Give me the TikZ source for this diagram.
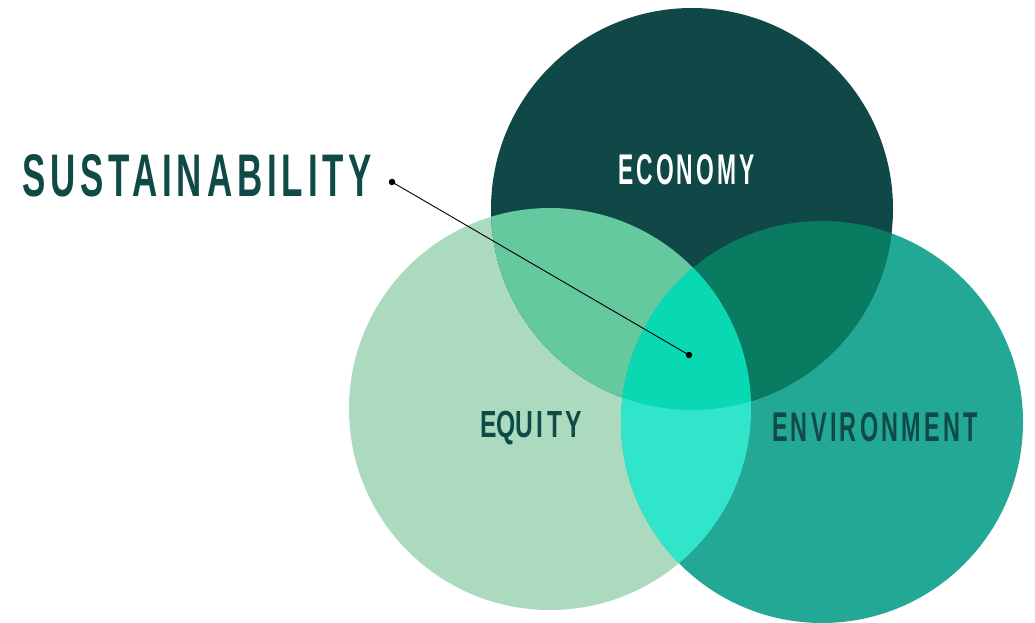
\documentclass[tikz,border=0pt]{standalone}
\usepackage{fontspec}
\usepackage{graphicx}
\newfontfamily\lblfont[LetterSpace=14]{Liberation Sans}
\definecolor{ecoC}{HTML}{0F4846}
\definecolor{equC}{HTML}{ABDABF}
\definecolor{envC}{HTML}{23A896}
\definecolor{ecoequC}{HTML}{64C99E}
\definecolor{ecoenvC}{HTML}{087B60}
\definecolor{equenvC}{HTML}{30E5C9}
\definecolor{allC}{HTML}{08D9B2}
\definecolor{txtC}{HTML}{0F4A47}
\newcommand{\fitlbl}[3]{\resizebox{#1}{#2}{\lblfont\bfseries #3}}
\begin{document}
\begin{tikzpicture}[x=1pt,y=-1pt,
  lbl/.style={inner sep=0pt, text=txtC},
  dotm/.style={circle, fill=black, inner sep=0pt, minimum size=6.5pt}]
\useasboundingbox (0,0) rectangle (1035,623);
\def\eco{(692,209) circle (201)}
\def\equ{(550,409) circle (201)}
\def\env{(822,422) circle (201)}
\fill[equC] \equ;
\fill[envC] \env;
\fill[ecoC] \eco;
\begin{scope}\clip \eco; \fill[ecoequC] \equ; \end{scope}
\begin{scope}\clip \eco; \fill[ecoenvC] \env; \end{scope}
\begin{scope}\clip \equ; \fill[equenvC] \env; \end{scope}
\begin{scope}\clip \eco; \clip \equ; \fill[allC] \env; \end{scope}
\node[lbl, anchor=west] (sus) at (22,176) {\fitlbl{350pt}{42pt}{SUSTAINABILITY}};
\node[lbl, text=white] (econ) at (686.5,170) {\fitlbl{137pt}{30pt}{ECONOMY}};
\node[lbl] (equi) at (531,425) {\fitlbl{102pt}{26pt}{E\smash{Q}UITY}};
\node[lbl] (envi) at (875,427.5) {\fitlbl{206pt}{29pt}{ENVIRONMENT}};
\node[dotm] (d1) at (392,182) {};
\node[dotm] (d2) at (689,355) {};
\draw[black, line width=0.9pt] (d1.center) -- (d2.center);
\end{tikzpicture}
\end{document}
